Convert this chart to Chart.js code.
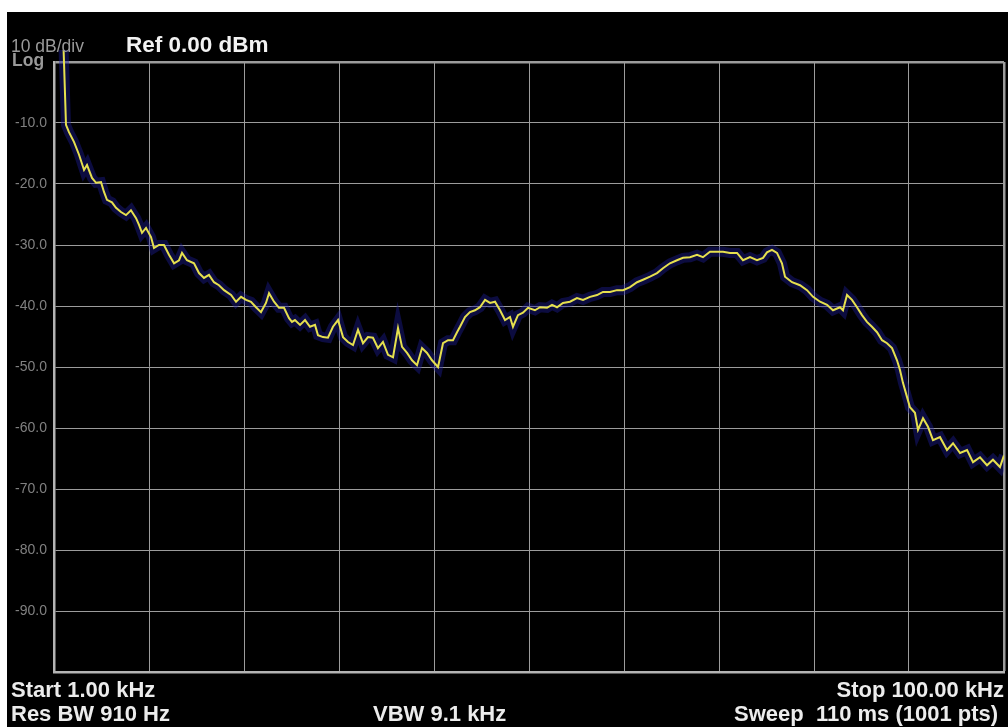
<!DOCTYPE html>
<html>
<head>
<meta charset="utf-8">
<script src="https://cdn.jsdelivr.net/npm/chart.js@4/dist/chart.umd.min.js"></script>
<style>
  html, body { margin: 0; padding: 0; background: #ffffff; }
  #wrap { position: relative; width: 1008px; height: 727px; }
  canvas { display: block; }
</style>
</head>
<body>
<div id="wrap"><canvas id="sa" width="1008" height="727"></canvas></div>
<script>
// Spectrum analyzer trace: frequency in kHz, level in dBm
const freqKHz = [
  1.00, 1.94, 2.25, 2.56, 3.08, 3.61, 4.13, 4.44, 4.96, 5.38,
  5.90, 6.21, 6.52, 7.04, 7.46, 7.98, 8.50, 9.02, 9.55, 9.86,
  10.17, 10.59, 11.11, 11.42, 11.94, 12.46, 12.98, 13.51, 14.03, 14.34,
  14.86, 15.59, 16.11, 16.63, 17.15, 17.67, 18.19, 18.72, 19.45, 19.97,
  20.49, 21.01, 21.53, 22.05, 22.57, 23.09, 23.41, 23.93, 24.45, 24.97,
  25.49, 25.80, 26.11, 26.64, 27.16, 27.68, 28.20, 28.51, 29.03, 29.55,
  30.07, 30.60, 31.12, 31.64, 32.16, 32.68, 33.20, 33.72, 34.24, 34.76,
  35.28, 35.81, 36.33, 36.85, 37.27, 37.79, 38.31, 38.83, 39.35, 39.87,
  40.39, 41.02, 41.54, 42.06, 42.58, 43.00, 43.31, 43.83, 44.35, 44.87,
  45.39, 45.92, 46.44, 46.96, 47.48, 48.00, 48.52, 48.83, 49.35, 49.87,
  50.40, 51.12, 51.65, 52.38, 52.90, 53.42, 54.04, 54.77, 55.50, 56.13,
  56.86, 57.59, 58.21, 58.94, 59.67, 60.30, 61.03, 61.76, 62.38, 63.11,
  63.84, 64.46, 65.19, 65.92, 66.55, 67.28, 68.01, 68.63, 69.36, 70.09,
  70.72, 71.45, 72.18, 72.80, 73.53, 74.26, 74.89, 75.30, 75.82, 76.34,
  76.86, 77.18, 77.91, 78.74, 79.47, 80.10, 80.83, 81.56, 82.18, 82.91,
  83.22, 83.64, 84.16, 84.68, 85.20, 85.72, 86.24, 86.77, 87.29, 87.81,
  88.33, 88.85, 89.16, 89.47, 89.89, 90.20, 90.72, 91.04, 91.56, 92.08,
  92.60, 93.33, 94.06, 94.69, 95.42, 96.15, 96.77, 97.50, 98.23, 98.85,
  99.58, 100.00
];
const levelDbm = [
  5.0, 5.0, -10.3, -11.5, -13.1, -15.2, -17.7, -16.9, -19.0, -19.8,
  -19.7, -21.3, -22.6, -23.0, -23.9, -24.6, -25.1, -24.3, -25.6, -26.7,
  -28.0, -27.2, -28.7, -30.5, -30.0, -30.0, -31.6, -33.0, -32.5, -31.3,
  -32.5, -33.0, -34.6, -35.4, -34.9, -36.1, -36.6, -37.4, -38.2, -39.3,
  -38.5, -39.0, -39.3, -40.2, -41.0, -39.5, -37.9, -39.3, -40.3, -40.3,
  -42.0, -42.6, -42.3, -43.1, -42.3, -43.4, -43.1, -44.8, -45.1, -45.2,
  -43.4, -42.3, -45.1, -45.9, -46.4, -43.9, -46.1, -45.1, -45.2, -46.9,
  -45.9, -48.0, -48.4, -43.6, -46.7, -47.7, -48.9, -49.7, -46.9, -47.7,
  -48.9, -50.0, -46.1, -45.6, -45.6, -44.3, -43.4, -41.8, -41.0, -40.7,
  -40.2, -39.0, -39.5, -39.3, -40.7, -42.3, -41.8, -43.4, -41.5, -41.1,
  -40.3, -40.7, -40.2, -40.3, -39.8, -40.2, -39.5, -39.3, -38.7, -39.0,
  -38.5, -38.2, -37.7, -37.7, -37.4, -37.4, -36.9, -36.1, -35.7, -35.2,
  -34.6, -33.8, -33.0, -32.5, -32.1, -32.0, -31.6, -32.0, -31.1, -31.1,
  -31.1, -31.3, -31.3, -32.5, -32.0, -32.5, -32.1, -31.2, -30.8, -31.3,
  -33.0, -35.2, -36.1, -36.6, -37.4, -38.5, -39.3, -39.8, -40.7, -40.2,
  -40.7, -38.2, -39.0, -40.2, -41.5, -42.6, -43.4, -44.3, -45.6, -46.1,
  -46.9, -48.9, -50.5, -52.6, -54.9, -56.6, -57.5, -60.3, -58.4, -59.8,
  -62.0, -61.5, -63.6, -62.5, -64.1, -63.6, -65.6, -64.8, -66.1, -65.2,
  -66.4, -64.5
];

// Sweep settings and annotation text
const startKHz = 1.00;
const stopKHz = 100.00;
const refLevelDbm = 0.0;
const dbPerDiv = 10;
const divisions = 10;
const headerScale = '10 dB/div';
const headerMode = 'Log';
const headerRef = 'Ref 0.00 dBm';
const footerStart = 'Start 1.00 kHz';
const footerStop = 'Stop 100.00 kHz';
const footerRbw = 'Res BW 910 Hz';
const footerVbw = 'VBW 9.1 kHz';
const footerSweep = 'Sweep  110 ms (1001 pts)';

const points = freqKHz.map((f, i) => ({ x: f, y: levelDbm[i] }));
const bottomDbm = refLevelDbm - dbPerDiv * divisions;

// Instrument screen: black panel plus header/footer annotations
const screenPlugin = {
  id: 'screen',
  beforeDraw(chart) {
    const c = chart.ctx;
    c.save();
    c.fillStyle = '#ffffff';
    c.fillRect(0, 0, chart.width, chart.height);
    c.fillStyle = '#000000';
    c.fillRect(7, 12, chart.width - 7, chart.height - 12);
    c.restore();
  },
  afterDraw(chart) {
    const c = chart.ctx;
    c.save();
    c.textBaseline = 'alphabetic';
    c.fillStyle = '#9a9a9a';
    c.font = '17.5px "Liberation Sans", Arial, sans-serif';
    c.textAlign = 'left';
    c.fillText(headerScale, 11, 52);
    c.font = 'bold 17.5px "Liberation Sans", Arial, sans-serif';
    c.fillText(headerMode, 12, 66);
    c.fillStyle = '#f2f2f2';
    c.font = 'bold 22.5px "Liberation Sans", Arial, sans-serif';
    c.fillText(headerRef, 126, 52);

    c.fillStyle = '#ececec';
    c.font = 'bold 22px "Liberation Sans", Arial, sans-serif';
    c.fillText(footerStart, 11, 697);
    c.fillText(footerRbw, 11, 721);
    c.fillText(footerVbw, 373, 721);
    c.fillText(footerSweep, 734, 721);
    c.textAlign = 'right';
    c.fillText(footerStop, 1004, 697);
    c.restore();
  }
};

const gridTicks = (scale, lo, hi) => {
  const t = [];
  for (let i = 0; i <= divisions; i++) t.push({ value: lo + (hi - lo) * i / divisions });
  scale.ticks = t;
};

new Chart(document.getElementById('sa'), {
  type: 'line',
  data: {
    datasets: [
      {
        // yellow trace, drawn on top
        data: points,
        order: 1,
        borderColor: '#e6e04e',
        borderWidth: 2,
        pointRadius: 0,
        tension: 0,
        clip: { left: 0, top: 12, right: 0, bottom: 0 }
      },
      {
        // soft blue persistence glow under the trace
        data: points,
        order: 2,
        borderColor: 'rgba(30, 30, 160, 0.40)',
        borderWidth: 10,
        pointRadius: 0,
        tension: 0,
        clip: { left: 0, top: 12, right: 0, bottom: 0 }
      }
    ]
  },
  options: {
    responsive: false,
    animation: false,
    events: [],
    layout: { padding: { top: 62, right: 4, left: 0, bottom: 0 } },
    plugins: { legend: { display: false }, tooltip: { enabled: false } },
    scales: {
      x: {
        type: 'linear',
        min: startKHz,
        max: stopKHz,
        afterBuildTicks: s => gridTicks(s, startKHz, stopKHz),
        afterFit: s => { s.height = 55; },
        ticks: { display: false },
        grid: {
          color: '#9c9c9c',
          lineWidth: ctx => (ctx.index === divisions ? 2.5 : 1),
          drawTicks: false
        },
        border: { color: '#b4b4b4', width: 2.5 }
      },
      y: {
        type: 'linear',
        min: bottomDbm,
        max: refLevelDbm,
        afterBuildTicks: s => gridTicks(s, bottomDbm, refLevelDbm),
        afterFit: s => { s.width = 54; },
        ticks: {
          autoSkip: false,
          padding: 7,
          color: '#808080',
          font: { family: '"Liberation Sans", Arial, sans-serif', size: 14 },
          callback: v => (v === refLevelDbm || v === bottomDbm ? '' : v.toFixed(1))
        },
        grid: {
          color: '#9c9c9c',
          lineWidth: ctx => (ctx.index === divisions ? 2.5 : 1),
          drawTicks: false
        },
        border: { color: '#b4b4b4', width: 2.5 }
      }
    }
  },
  plugins: [screenPlugin]
});
</script>
</body>
</html>
